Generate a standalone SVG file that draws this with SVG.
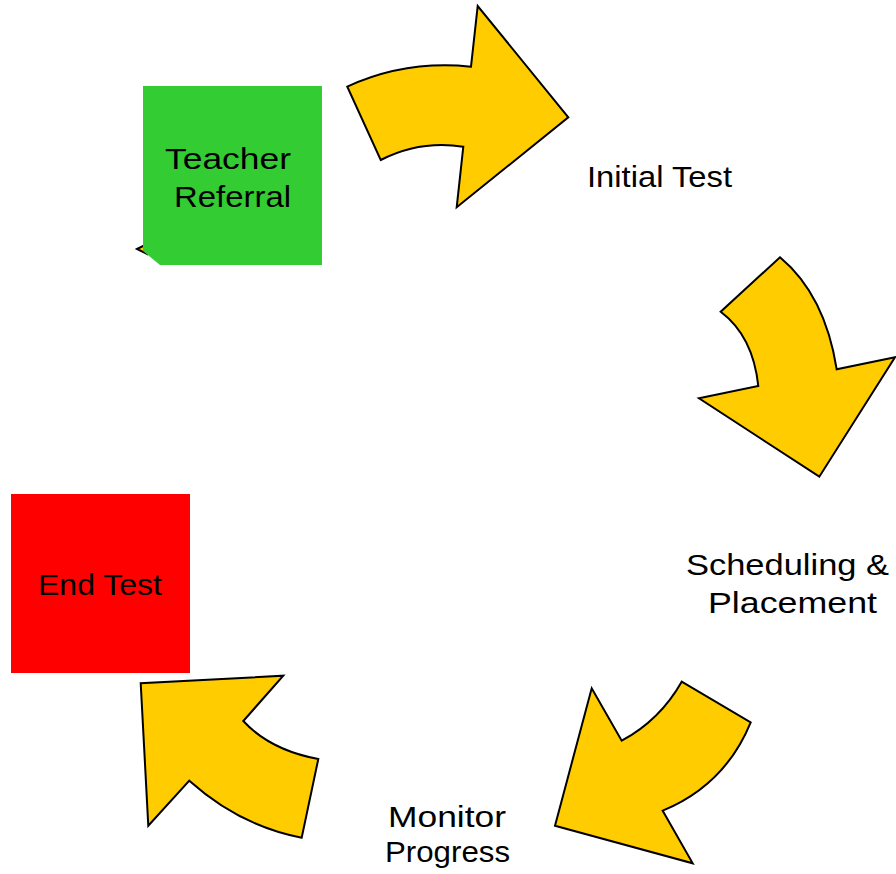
<svg xmlns="http://www.w3.org/2000/svg" width="896" height="874" viewBox="0 0 896 874">
<style>
.arrow{fill:#FFCC00;stroke:#000;stroke-width:2;stroke-linejoin:miter}
.lbl{font-family:"Liberation Sans",Arial,sans-serif;font-size:30px;fill:#000;text-anchor:middle}
</style>
<rect width="896" height="874" fill="#fff"/>
<g id="connectors">
  <path id="arrow-hidden" class="arrow" d="M137,249 L147,244 L147,254 Z"/>
  <path id="arrow1" class="arrow" d="M347.3,86.7 Q405,60 471,66.7 L477.7,6 L568.3,117.3 L456.7,207.3 L463.3,146.7 Q420,140 380.7,160 Z"/>
  <path id="arrow2" class="arrow" d="M780,257.3 Q825,295 836.7,369.3 L895,357.3 L819.3,476.7 L699,398.3 L758.3,386 Q753,336 720.7,311.7 Z"/>
  <path id="arrow3" class="arrow" d="M750.7,722.3 Q725,785 662.7,810.7 L692.7,863.3 L555,825.7 L591.7,688.3 L621.7,740.7 Q660,720 681.7,681.7 Z"/>
  <path id="arrow4" class="arrow" d="M318.3,759 Q270,750 243.3,721 L283.3,675.7 L140.7,683.3 L148.3,825.7 L189.3,780.7 Q240,826 301.7,837.7 Z"/>
</g>
<g id="teacher-referral">
  <path d="M143,86 H322 V265 H160 L143,251 Z" fill="#33CC33"/>
  <text class="lbl" x="228" y="169" textLength="126" lengthAdjust="spacingAndGlyphs">Teacher</text>
  <text class="lbl" x="232.5" y="207" textLength="117" lengthAdjust="spacingAndGlyphs">Referral</text>
</g>
<g id="initial-test">
  <text class="lbl" x="659.5" y="187" textLength="145" lengthAdjust="spacingAndGlyphs">Initial Test</text>
</g>
<g id="scheduling-placement">
  <text class="lbl" x="787.5" y="575" textLength="203" lengthAdjust="spacingAndGlyphs">Scheduling &amp;</text>
  <text class="lbl" x="792.5" y="613" textLength="169" lengthAdjust="spacingAndGlyphs">Placement</text>
</g>
<g id="monitor-progress">
  <text class="lbl" x="447" y="827" textLength="118" lengthAdjust="spacingAndGlyphs">Monitor</text>
  <text class="lbl" x="447.5" y="862" textLength="125" lengthAdjust="spacingAndGlyphs">Progress</text>
</g>
<g id="end-test">
  <rect x="11" y="494" width="179" height="179" fill="#FF0000"/>
  <text class="lbl" x="100" y="595" textLength="124" lengthAdjust="spacingAndGlyphs">End Test</text>
</g>
</svg>
